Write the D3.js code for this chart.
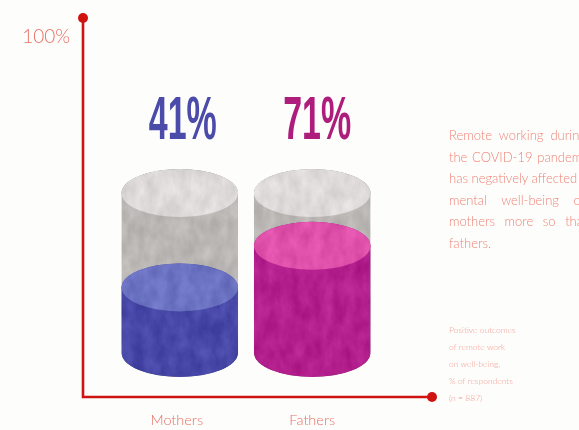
<!DOCTYPE html>
<html>
<head>
<meta charset="utf-8">
<script src="https://cdn.jsdelivr.net/npm/d3@7"></script>
<style>
  html, body { margin: 0; padding: 0; background: #fdfdfc; overflow: hidden; }
  text { font-family: Lato, "Open Sans", sans-serif; }
</style>
</head>
<body>
<div id="myChart"></div>
<script>
const categories = ["Mothers", "Fathers"];
const percentLabels = ["41%", "71%"];
// liquid level as drawn in the picture, the second one sits below its 71% label
const fillLevels = [41, 67];
const axisTicks = [100];
const bodyLines = [
  "Remote working during",
  "the COVID-19 pandemic",
  "has negatively affected the",
  "mental well-being of",
  "mothers more so than",
  "fathers.",
];
const noteLines = [
  "Positive outcomes",
  "of remote work",
  "on well-being,",
  "% of respondents",
  "(n = 887)",
];
const bodyWordSpacing = [3.5, 1.2, 0, 11, 6, 0];

const sideColors = ["#4747a8", "#b41f8e"];
const topColors = ["#6b73c2", "#df50ab"];
const labelColors = ["#4b4ca9", "#ae1f7c"];

const width = 579;
const height = 430;
const red = "#cf1410";
const ry = 24;

const x = d3.scaleBand().domain(categories).range([121.5, 370.5]).paddingInner(0.12);
const y = d3.scaleLinear().domain([0, 100]).range([353, 193]);
const axisY = d3.scaleLinear().domain([0, 100]).range([397, 36]);

const svg = d3
  .select("#myChart")
  .append("svg")
  .attr("width", width)
  .attr("height", height);

// mottled paper look for the cylinders
const defs = svg.append("defs");
const grain = defs
  .append("filter")
  .attr("id", "grain")
  .attr("x", "0%")
  .attr("y", "0%")
  .attr("width", "100%")
  .attr("height", "100%")
  .attr("color-interpolation-filters", "sRGB");
grain
  .append("feTurbulence")
  .attr("type", "fractalNoise")
  .attr("baseFrequency", "0.09 0.05")
  .attr("numOctaves", 4)
  .attr("seed", 11)
  .attr("result", "noise");
grain
  .append("feColorMatrix")
  .attr("in", "noise")
  .attr("type", "matrix")
  .attr("values", "1 0 0 0 0 1 0 0 0 0 1 0 0 0 0 0 0 0 0 1")
  .attr("result", "mono");
grain
  .append("feComposite")
  .attr("in", "SourceGraphic")
  .attr("in2", "mono")
  .attr("operator", "arithmetic")
  .attr("k1", 0)
  .attr("k2", 1)
  .attr("k3", 0.14)
  .attr("k4", -0.07)
  .attr("result", "mixed");
grain
  .append("feComposite")
  .attr("in", "mixed")
  .attr("in2", "SourceAlpha")
  .attr("operator", "in")
  .attr("result", "clipped");
grain.append("feGaussianBlur").attr("in", "clipped").attr("stdDeviation", 0.5);

const soft = defs.append("filter").attr("id", "soft");
soft.append("feGaussianBlur").attr("stdDeviation", 0.35);

function bodyPath(cx, rx, yTop, yBottom) {
  return `M${cx - rx},${yTop} A${rx},${ry} 0 0 1 ${cx + rx},${yTop}
    L${cx + rx},${yBottom} A${rx},${ry} 0 0 1 ${cx - rx},${yBottom} Z`;
}

const cylinders = svg
  .selectAll("g.cylinder")
  .data(categories)
  .enter()
  .append("g")
  .attr("class", "cylinder")
  .attr("filter", "url(#grain)");

const cx = (d) => x(d) + x.bandwidth() / 2;
const rx = x.bandwidth() / 2;

// empty glass
cylinders
  .append("path")
  .attr("d", (d) => bodyPath(cx(d), rx, y(100), y(0)))
  .attr("fill", "#b9b6b3");
cylinders
  .append("ellipse")
  .attr("cx", cx)
  .attr("cy", y(100))
  .attr("rx", rx)
  .attr("ry", ry)
  .attr("fill", "#dedad9");

// liquid
cylinders
  .append("path")
  .attr("d", (d, i) => bodyPath(cx(d), rx, y(fillLevels[i]), y(0)))
  .attr("fill", (d, i) => sideColors[i]);
cylinders
  .append("ellipse")
  .attr("cx", cx)
  .attr("cy", (d, i) => y(fillLevels[i]))
  .attr("rx", rx)
  .attr("ry", ry)
  .attr("fill", (d, i) => topColors[i]);

// big percent labels
svg
  .selectAll("text.percent")
  .data(percentLabels)
  .enter()
  .append("text")
  .attr("class", "percent")
  .attr("x", (d, i) => cx(categories[i]) + (i ? 5 : 3))
  .attr("y", 139)
  .attr("text-anchor", "middle")
  .attr("textLength", 68)
  .attr("lengthAdjust", "spacingAndGlyphs")
  .attr("fill", (d, i) => labelColors[i])
  .attr("filter", "url(#soft)")
  .style("font-family", '"Liberation Sans Narrow", "Liberation Sans", sans-serif')
  .style("font-weight", 700)
  .style("font-size", "61px")
  .text((d) => d);

// axes, drawn by d3 and then restyled
const axisLeft = svg
  .append("g")
  .attr("transform", "translate(83, 0)")
  .call(d3.axisLeft(axisY).tickValues(axisTicks).tickFormat((d) => d + "%").tickSize(0).tickPadding(13));
axisLeft.select(".domain").remove();
axisLeft
  .selectAll("text")
  .attr("fill", "#e86f62")
  .attr("filter", "url(#soft)")
  .style("font-family", "Lato, sans-serif")
  .style("font-weight", 300)
  .style("font-size", "19px");

const axisBottom = svg
  .append("g")
  .attr("transform", "translate(0, 397)")
  .call(d3.axisBottom(x).tickSize(0).tickPadding(18));
axisBottom.select(".domain").remove();
axisBottom
  .selectAll("text")
  .attr("fill", "#e86f62")
  .attr("dx", (d, i) => (i ? 0 : -3))
  .attr("filter", "url(#soft)")
  .style("font-family", "Lato, sans-serif")
  .style("font-weight", 300)
  .style("font-size", "14.5px");

svg
  .append("path")
  .attr("d", d3.line()([[83, 18], [83, 397], [432, 397]]))
  .attr("fill", "none")
  .attr("stroke", red)
  .attr("stroke-width", 2.6);
svg
  .selectAll("circle.end")
  .data([[83, 18], [432, 397]])
  .enter()
  .append("circle")
  .attr("class", "end")
  .attr("cx", (d) => d[0])
  .attr("cy", (d) => d[1])
  .attr("r", 5)
  .attr("fill", red);

// side text, cut by the right edge as in the original
svg
  .selectAll("text.body")
  .data(bodyLines)
  .enter()
  .append("text")
  .attr("class", "body")
  .attr("x", 449)
  .attr("y", (d, i) => 140 + i * 21.5)
  .attr("fill", "#ee8577")
  .attr("filter", "url(#soft)")
  .style("font-size", "13px")
  .style("font-weight", 300)
  .style("word-spacing", (d, i) => bodyWordSpacing[i] + "px")
  .text((d) => d);

svg
  .selectAll("text.note")
  .data(noteLines)
  .enter()
  .append("text")
  .attr("class", "note")
  .attr("x", 449)
  .attr("y", (d, i) => 333 + i * 17)
  .attr("fill", "#f3a195")
  .attr("filter", "url(#soft)")
  .style("font-size", "8.5px")
  .style("font-weight", 300)
  .text((d) => d);
</script>
</body>
</html>
